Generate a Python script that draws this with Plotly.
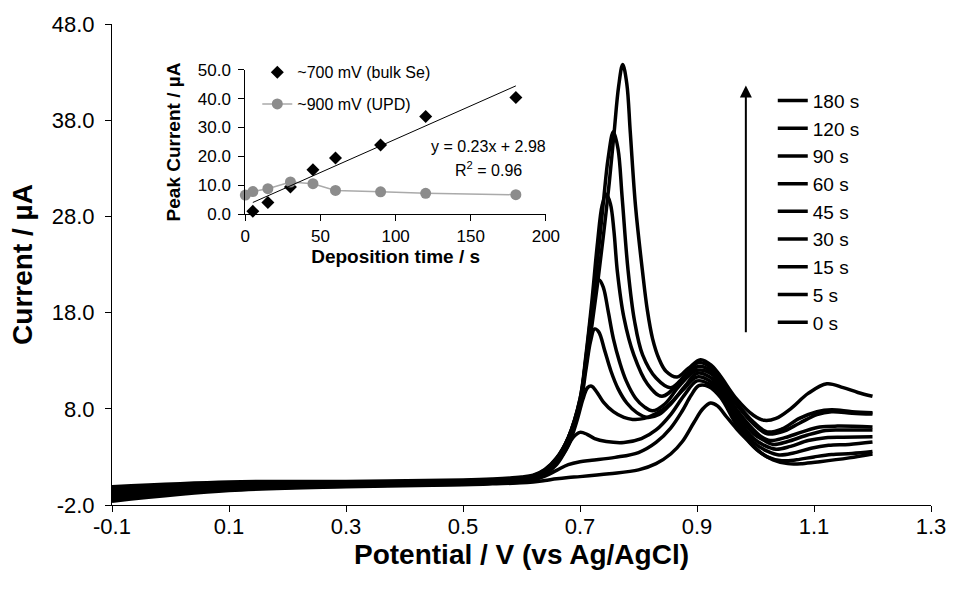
import plotly.graph_objects as go

# ---------------- main CV curves (potential V, current µA) ----------------
V_0s = [-0.1, 0.1, 0.3, 0.5, 0.55, 0.6, 0.62, 0.64, 0.66, 0.68, 0.70, 0.75, 0.8, 0.83, 0.855, 0.875, 0.895, 0.91, 0.923, 0.935, 0.95, 0.968, 0.985, 1.005, 1.03, 1.055, 1.08, 1.11, 1.16, 1.2]
I_0s = [-1.6, -0.5, -0.1, 0.1, 0.2, 0.3, 0.4, 0.55, 0.72, 0.85, 0.95, 1.25, 1.65, 2.3, 3.3, 4.6, 6.6, 8.0, 8.6, 8.3, 7.2, 5.9, 4.8, 3.6, 2.7, 2.3, 2.3, 2.5, 2.9, 3.3]

V_5s = [-0.1, 0.1, 0.3, 0.5, 0.55, 0.6, 0.62, 0.64, 0.66, 0.68, 0.70, 0.72, 0.76, 0.8, 0.83, 0.855, 0.875, 0.89, 0.903, 0.92, 0.94, 0.968, 0.997, 1.02, 1.045, 1.07, 1.1, 1.13, 1.165, 1.2]
I_5s = [-1.4, -0.4, -0.03, 0.15, 0.25, 0.4, 0.6, 1.0, 1.6, 2.2, 2.5, 2.65, 2.95, 3.45, 4.5, 6.0, 7.8, 9.4, 10.4, 10.3, 9.2, 6.3, 4.1, 3.0, 2.6, 2.7, 3.0, 3.25, 3.35, 3.55]

V_15s = [-0.1, 0.1, 0.3, 0.5, 0.55, 0.6, 0.62, 0.64, 0.66, 0.675, 0.688, 0.70, 0.712, 0.725, 0.745, 0.775, 0.805, 0.83, 0.855, 0.878, 0.9, 0.92, 0.94, 0.968, 0.997, 1.02, 1.04, 1.065, 1.095, 1.125, 1.16, 1.2]
I_15s = [-1.2, -0.3, 0.05, 0.2, 0.3, 0.45, 0.7, 1.2, 2.2, 3.6, 5.0, 5.55, 5.35, 4.9, 4.6, 4.5, 4.9, 5.8, 7.4, 9.4, 10.9, 10.6, 9.5, 6.7, 4.5, 3.6, 3.2, 3.4, 3.9, 4.2, 4.3, 4.55]

V_30s = [-0.1, 0.1, 0.3, 0.5, 0.55, 0.6, 0.62, 0.64, 0.66, 0.68, 0.695, 0.705, 0.713, 0.72, 0.728, 0.74, 0.757, 0.775, 0.79, 0.81, 0.83, 0.85, 0.875, 0.9, 0.922, 0.94, 0.968, 0.997, 1.015, 1.035, 1.06, 1.09, 1.12, 1.15, 1.2]
I_30s = [-1.0, -0.2, 0.1, 0.25, 0.35, 0.5, 0.75, 1.3, 2.4, 4.2, 6.8, 9.0, 10.2, 10.35, 9.8, 8.7, 7.7, 7.1, 6.9, 7.0, 7.5, 8.3, 9.9, 11.3, 10.9, 9.8, 7.1, 4.9, 4.2, 3.8, 4.1, 4.7, 5.0, 5.05, 5.1]

V_45s = [-0.1, 0.1, 0.3, 0.5, 0.55, 0.6, 0.62, 0.64, 0.66, 0.68, 0.70, 0.71, 0.718, 0.725, 0.732, 0.742, 0.753, 0.765, 0.78, 0.797, 0.815, 0.835, 0.855, 0.88, 0.9, 0.922, 0.94, 0.968, 0.997, 1.015, 1.03, 1.055, 1.085, 1.12, 1.15, 1.2]
I_45s = [-0.85, -0.1, 0.15, 0.3, 0.4, 0.55, 0.8, 1.4, 2.6, 4.6, 8.2, 12.0, 15.0, 16.3, 16.0, 14.1, 11.9, 10.1, 8.6, 7.6, 7.1, 7.4, 8.5, 10.4, 11.7, 11.3, 10.1, 7.5, 5.4, 4.7, 4.3, 4.6, 5.2, 5.75, 5.8, 5.8]

V_60s = [-0.1, 0.1, 0.3, 0.5, 0.55, 0.6, 0.62, 0.64, 0.66, 0.68, 0.70, 0.71, 0.72, 0.727, 0.733, 0.74, 0.748, 0.757, 0.768, 0.779, 0.795, 0.81, 0.824, 0.845, 0.87, 0.9, 0.925, 0.94, 0.968, 0.997, 1.01, 1.025, 1.05, 1.08, 1.11, 1.14, 1.2]
I_60s = [-0.7, 0.0, 0.2, 0.35, 0.45, 0.65, 0.9, 1.5, 2.7, 4.8, 8.6, 13.2, 18.3, 21.0, 21.4, 20.6, 18.2, 15.3, 12.8, 10.9, 9.1, 8.2, 7.8, 8.5, 10.4, 12.0, 11.6, 10.4, 7.9, 5.8, 5.1, 4.7, 5.0, 5.6, 6.1, 6.2, 6.1]

V_90s = [-0.1, 0.1, 0.3, 0.5, 0.55, 0.6, 0.62, 0.64, 0.66, 0.68, 0.70, 0.71, 0.72, 0.73, 0.738, 0.745, 0.752, 0.758, 0.764, 0.775, 0.792, 0.815, 0.84, 0.875, 0.902, 0.925, 0.94, 0.968, 0.997, 1.02, 1.045, 1.075, 1.105, 1.13, 1.165, 1.2]
I_90s = [-0.5, 0.15, 0.3, 0.45, 0.55, 0.75, 1.0, 1.6, 2.8, 5.0, 9.0, 13.5, 19.0, 25.3, 29.2, 30.3, 29.3, 26.5, 22.2, 17.5, 13.6, 10.6, 9.3, 11.0, 12.4, 11.9, 10.8, 8.4, 6.4, 5.4, 5.6, 6.5, 7.4, 7.7, 7.55, 7.45]

V_120s = [-0.1, 0.1, 0.3, 0.5, 0.55, 0.6, 0.62, 0.64, 0.66, 0.68, 0.70, 0.71, 0.72, 0.73, 0.74, 0.748, 0.757, 0.765, 0.772, 0.782, 0.793, 0.807, 0.83, 0.855, 0.88, 0.903, 0.925, 0.94, 0.968, 0.997, 1.02, 1.045, 1.075, 1.105, 1.13, 1.165, 1.2]
I_120s = [-0.3, 0.3, 0.38, 0.52, 0.62, 0.8, 1.05, 1.65, 2.85, 5.0, 9.0, 13.0, 17.8, 23.5, 29.5, 34.0, 36.8, 35.0, 30.0, 22.5, 17.2, 13.6, 11.2, 10.2, 11.5, 12.8, 12.2, 11.0, 8.6, 6.6, 5.6, 5.9, 7.0, 7.7, 7.9, 7.7, 7.6]

V_180s = [-0.1, 0.1, 0.3, 0.5, 0.55, 0.6, 0.62, 0.64, 0.66, 0.68, 0.70, 0.71, 0.72, 0.73, 0.74, 0.75, 0.758, 0.766, 0.773, 0.78, 0.786, 0.795, 0.807, 0.815, 0.824, 0.835, 0.847, 0.866, 0.885, 0.906, 0.925, 0.94, 0.968, 0.997, 1.015, 1.035, 1.06, 1.09, 1.122, 1.15, 1.175, 1.2]
I_180s = [-0.1, 0.4, 0.45, 0.6, 0.7, 0.9, 1.1, 1.7, 2.9, 5.0, 8.8, 12.5, 16.5, 21.0, 26.0, 31.5, 36.5, 41.5, 43.8, 41.8, 36.7, 29.0, 22.2, 18.3, 15.3, 13.2, 11.9, 11.3, 12.2, 13.1, 12.5, 11.4, 9.0, 7.3, 6.8, 7.0, 8.0, 9.6, 10.6, 10.2, 9.7, 9.3]

curve_labels = ["0 s", "5 s", "15 s", "30 s", "45 s", "60 s", "90 s", "120 s", "180 s"]
curve_V = [V_0s, V_5s, V_15s, V_30s, V_45s, V_60s, V_90s, V_120s, V_180s]
curve_I = [I_0s, I_5s, I_15s, I_30s, I_45s, I_60s, I_90s, I_120s, I_180s]

x_tick_vals = [-0.1, 0.1, 0.3, 0.5, 0.7, 0.9, 1.1, 1.3]
x_tick_text = ["-0.1", "0.1", "0.3", "0.5", "0.7", "0.9", "1.1", "1.3"]
y_tick_vals = [-2, 8, 18, 28, 38, 48]
y_tick_text = ["-2.0", "8.0", "18.0", "28.0", "38.0", "48.0"]

# ---------------- inset: peak current vs deposition time ----------------
time_bulk = [5, 15, 30, 45, 60, 90, 120, 180]
peak_bulk = [1.1, 4.1, 9.5, 15.4, 19.5, 24.0, 33.8, 40.4]
time_upd = [0, 5, 15, 30, 45, 60, 90, 120, 180]
peak_upd = [6.7, 7.9, 8.9, 11.2, 10.6, 8.3, 7.8, 7.3, 6.8]
fit_slope = 0.23
fit_intercept = 2.98
fit_range = [5, 180]

FONT = "Liberation Sans, Arial, sans-serif"

fig = go.Figure()

for lab, vx, iy in zip(curve_labels, curve_V, curve_I):
    fig.add_trace(go.Scatter(
        x=vx, y=iy, mode="lines", name=lab,
        line=dict(color="black", width=3.5, shape="spline", smoothing=1.0),
        legend="legend", xaxis="x", yaxis="y", hoverinfo="skip"))

fig.add_trace(go.Scatter(
    x=time_bulk, y=peak_bulk, mode="markers", name="~700 mV (bulk Se)",
    marker=dict(symbol="diamond", size=10, color="black"),
    xaxis="x2", yaxis="y2", legend="legend2", legendgroup="a", cliponaxis=False))
fig.add_trace(go.Scatter(
    x=time_upd, y=peak_upd, mode="lines+markers", name="~900 mV (UPD)",
    marker=dict(symbol="circle", size=11, color="rgb(140,140,140)"),
    line=dict(color="rgb(170,170,170)", width=1.5),
    xaxis="x2", yaxis="y2", legend="legend2", legendgroup="b", cliponaxis=False))
fig.add_trace(go.Scatter(
    x=fit_range, y=[fit_slope * t + fit_intercept for t in fit_range], mode="lines",
    line=dict(color="black", width=1), showlegend=False,
    xaxis="x2", yaxis="y2", cliponaxis=False))

axis_common = dict(showline=True, linecolor="black", linewidth=1, showgrid=False,
                   zeroline=False, ticks="outside", tickcolor="black", tickwidth=1)

fig.update_layout(
    width=958, height=594,
    margin=dict(l=112, r=23, t=20, b=89),
    plot_bgcolor="white", paper_bgcolor="white",
    font=dict(family=FONT, color="black"),
    xaxis=dict(**axis_common, range=[-0.1, 1.3], tickmode="array", tickvals=x_tick_vals,
               ticktext=x_tick_text, ticklen=6, tickfont=dict(size=22), ticklabelstandoff=-4,
               title=dict(text="<b>Potential / V (vs Ag/AgCl)</b>", font=dict(size=28), standoff=0)),
    yaxis=dict(**axis_common, range=[-2, 48], tickmode="array", tickvals=y_tick_vals,
               ticktext=y_tick_text, ticklen=6, tickfont=dict(size=22), ticklabelstandoff=6,
               title=dict(text="<b>Current / µA</b>", font=dict(size=28), standoff=10)),
    xaxis2=dict(**axis_common, domain=[0.1628, 0.5298], anchor="y2", range=[0, 200], dtick=50,
                ticklen=6, tickfont=dict(size=17),
                title=dict(text="<b>Deposition time / s</b>", font=dict(size=19), standoff=2)),
    yaxis2=dict(**axis_common, domain=[0.6041, 0.9052], anchor="x2", range=[0, 50], dtick=10,
                tickformat=".1f", ticklen=6, tickfont=dict(size=17), ticklabelstandoff=4,
                title=dict(text="<b>Peak Current / µA</b>", font=dict(size=19), standoff=12)),
    legend=dict(x=0.8068, y=0.88, xanchor="left", yanchor="top", traceorder="reversed",
                font=dict(size=19), bgcolor="rgba(0,0,0,0)", itemwidth=30),
    legend2=dict(x=0.1774, y=0.935, xanchor="left", yanchor="top", traceorder="grouped",
                 tracegroupgap=8, font=dict(size=16), bgcolor="rgba(0,0,0,0)", itemwidth=30),
    showlegend=True,
)

fig.add_annotation(x=161.6, y=23.6, xref="x2", yref="y2", text="y = 0.23x + 2.98",
                   showarrow=False, font=dict(size=16))
fig.add_annotation(x=161.6, y=15.8, xref="x2", yref="y2", text="R<sup>2</sup> = 0.96",
                   showarrow=False, font=dict(size=16))
fig.add_annotation(x=0.9835, y=41.6, ax=0.9835, ay=15.8, xref="x", yref="y", axref="x", ayref="y",
                   text="", showarrow=True, arrowhead=2, arrowsize=1.2, arrowwidth=2, arrowcolor="black")

fig.write_html("out.html")
